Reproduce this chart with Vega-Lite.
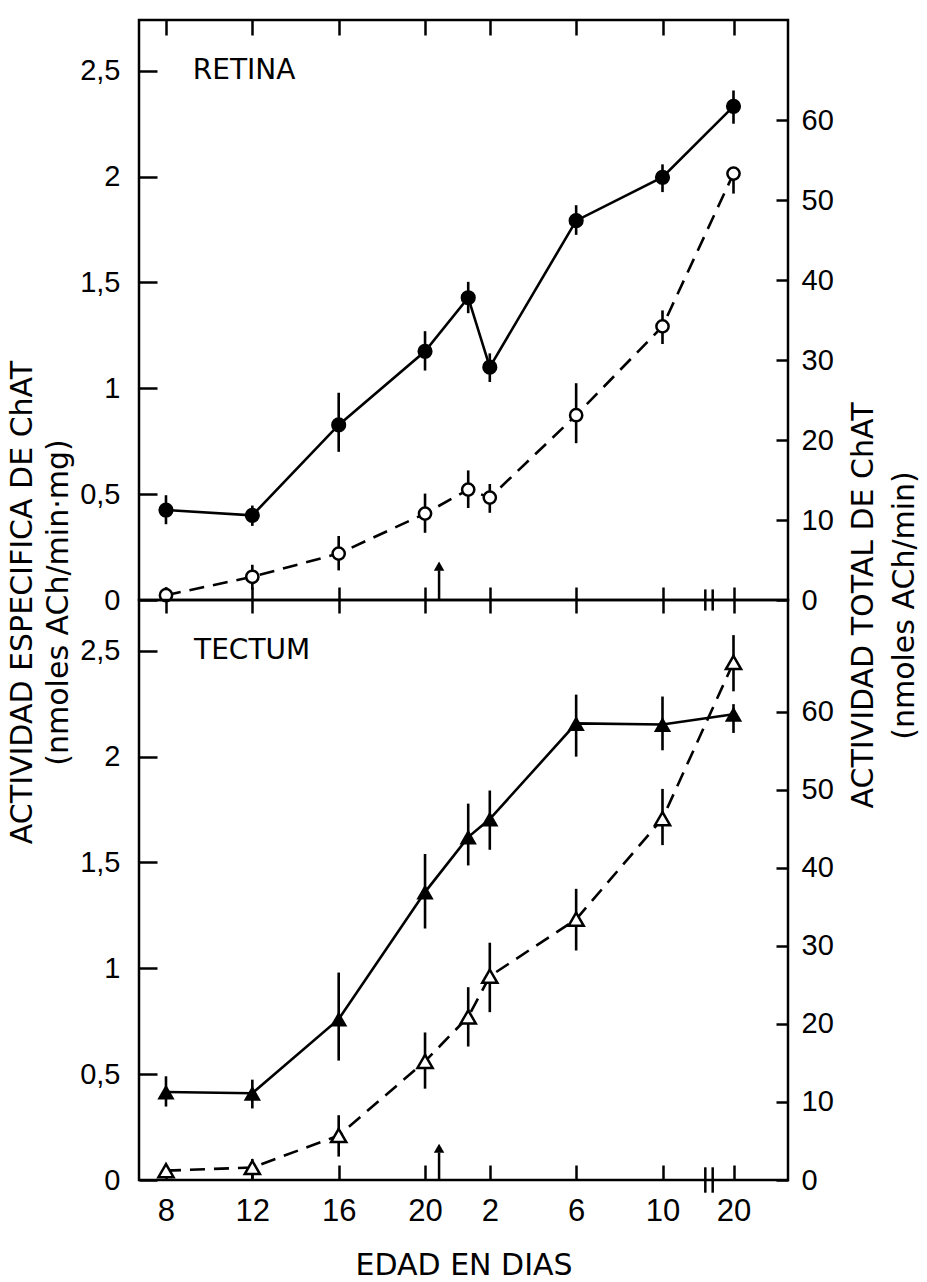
{
  "$schema": "https://vega.github.io/schema/vega-lite/v6.json",
  "background": "white",
  "padding": {"left": 5, "top": 17, "right": 0, "bottom": 2},
  "bounds": "flush",
  "spacing": 0,
  "datasets": {
    "pts": [
      {"panel": "RETINA", "serie": "especifica", "edad": 8, "v": 0.425, "lo": 0.358, "hi": 0.495},
      {"panel": "RETINA", "serie": "especifica", "edad": 12, "v": 0.40, "lo": 0.35, "hi": 0.446},
      {"panel": "RETINA", "serie": "especifica", "edad": 16, "v": 0.827, "lo": 0.70, "hi": 0.979},
      {"panel": "RETINA", "serie": "especifica", "edad": 20, "v": 1.175, "lo": 1.084, "hi": 1.27},
      {"panel": "RETINA", "serie": "especifica", "edad": 22, "v": 1.428, "lo": 1.355, "hi": 1.503},
      {"panel": "RETINA", "serie": "especifica", "edad": 23, "v": 1.10, "lo": 1.03, "hi": 1.165},
      {"panel": "RETINA", "serie": "especifica", "edad": 27, "v": 1.792, "lo": 1.725, "hi": 1.865},
      {"panel": "RETINA", "serie": "especifica", "edad": 31, "v": 1.997, "lo": 1.927, "hi": 2.058},
      {"panel": "RETINA", "serie": "especifica", "edad": 41, "v": 2.332, "lo": 2.25, "hi": 2.407},
      {"panel": "RETINA", "serie": "total", "edad": 8, "v": 0.6, "lo": 0.0, "hi": 1.6},
      {"panel": "RETINA", "serie": "total", "edad": 12, "v": 2.9, "lo": 1.3, "hi": 4.4},
      {"panel": "RETINA", "serie": "total", "edad": 16, "v": 5.8, "lo": 3.7, "hi": 8.0},
      {"panel": "RETINA", "serie": "total", "edad": 20, "v": 10.8, "lo": 8.4, "hi": 13.3},
      {"panel": "RETINA", "serie": "total", "edad": 22, "v": 13.8, "lo": 11.5, "hi": 16.2},
      {"panel": "RETINA", "serie": "total", "edad": 23, "v": 12.8, "lo": 10.9, "hi": 14.5},
      {"panel": "RETINA", "serie": "total", "edad": 27, "v": 23.1, "lo": 19.6, "hi": 27.1},
      {"panel": "RETINA", "serie": "total", "edad": 31, "v": 34.2, "lo": 32.0, "hi": 36.2},
      {"panel": "RETINA", "serie": "total", "edad": 41, "v": 53.3, "lo": 50.8, "hi": 53.3},
      {"panel": "TECTUM", "serie": "especifica", "edad": 8, "v": 0.416, "lo": 0.347, "hi": 0.49},
      {"panel": "TECTUM", "serie": "especifica", "edad": 12, "v": 0.41, "lo": 0.338, "hi": 0.474},
      {"panel": "TECTUM", "serie": "especifica", "edad": 16, "v": 0.76, "lo": 0.564, "hi": 0.98},
      {"panel": "TECTUM", "serie": "especifica", "edad": 20, "v": 1.36, "lo": 1.188, "hi": 1.54},
      {"panel": "TECTUM", "serie": "especifica", "edad": 22, "v": 1.62, "lo": 1.486, "hi": 1.778},
      {"panel": "TECTUM", "serie": "especifica", "edad": 23, "v": 1.705, "lo": 1.56, "hi": 1.84},
      {"panel": "TECTUM", "serie": "especifica", "edad": 27, "v": 2.157, "lo": 2.0, "hi": 2.293},
      {"panel": "TECTUM", "serie": "especifica", "edad": 31, "v": 2.152, "lo": 2.03, "hi": 2.284},
      {"panel": "TECTUM", "serie": "especifica", "edad": 41, "v": 2.2, "lo": 2.112, "hi": 2.248},
      {"panel": "TECTUM", "serie": "total", "edad": 8, "v": 1.2, "lo": 0.5, "hi": 1.8},
      {"panel": "TECTUM", "serie": "total", "edad": 12, "v": 1.6, "lo": 0.0, "hi": 2.7},
      {"panel": "TECTUM", "serie": "total", "edad": 16, "v": 5.7, "lo": 3.0, "hi": 8.3},
      {"panel": "TECTUM", "serie": "total", "edad": 20, "v": 15.2, "lo": 11.7, "hi": 18.9},
      {"panel": "TECTUM", "serie": "total", "edad": 22, "v": 20.9, "lo": 17.1, "hi": 24.7},
      {"panel": "TECTUM", "serie": "total", "edad": 23, "v": 26.1, "lo": 21.5, "hi": 30.4},
      {"panel": "TECTUM", "serie": "total", "edad": 27, "v": 33.4, "lo": 29.4, "hi": 37.3},
      {"panel": "TECTUM", "serie": "total", "edad": 31, "v": 46.3, "lo": 42.9, "hi": 50.1},
      {"panel": "TECTUM", "serie": "total", "edad": 41, "v": 66.3, "lo": 62.6, "hi": 69.8}
    ]
  },
  "data": {"name": "pts"},
  "config": {
    "font": "DejaVu Sans",
    "view": {"stroke": "black", "strokeWidth": 2.5},
    "axis": {
      "domain": false, "grid": false, "ticks": true,
      "tickColor": "black", "tickWidth": 2.5,
      "labelColor": "black", "labelFont": "Liberation Sans", "labelFontSize": 29,
      "labelFlush": false, "labelOverlap": false,
      "titleColor": "black", "titleFont": "DejaVu Sans", "titleFontSize": 30, "titleFontWeight": "normal"
    }
  },
  "vconcat": [
    {
      "width": 649, "height": 580,
      "layer": [
        {
          "layer": [
            {
              "transform": [{"filter": "datum.panel == 'RETINA' && datum.serie == 'especifica'"}],
              "mark": {"type": "rule", "color": "black", "strokeWidth": 2.6},
              "encoding": {
                "x": {"field": "edad", "type": "quantitative",
                      "scale": {"domain": [6.75, 31, 41, 43.5], "range": [0, 523.5, 594.5, 649], "nice": false, "zero": false},
                      "axis": {"orient": "bottom", "values": [8, 12, 16, 20, 23, 27, 31, 41], "offset": -13, "tickSize": 13, "labels": false, "title": null}},
                "y": {"field": "lo", "type": "quantitative", "scale": {"domain": [0, 2.74], "nice": false},
                      "axis": {"orient": "left", "values": [0, 0.5, 1, 1.5, 2, 2.5], "offset": -18, "tickSize": 18, "labelPadding": 19,
                               "labelExpr": "replace(format(datum.value, '~g'), '.', ',')",
                               "title": ["ACTIVIDAD ESPECIFICA DE ChAT", "(nmoles ACh/min·mg)"],
                               "titleAngle": -90, "titleX": -120, "titleY": 582, "titleAlign": "center", "titleBaseline": "bottom", "titleLineHeight": 36}},
                "y2": {"field": "hi"}
              }
            },
            {
              "transform": [{"filter": "datum.panel == 'RETINA' && datum.serie == 'especifica'"}],
              "mark": {"type": "line", "color": "black", "strokeWidth": 2.6},
              "encoding": {"x": {"field": "edad", "type": "quantitative"}, "y": {"field": "v", "type": "quantitative"}}
            },
            {
              "transform": [{"filter": "datum.panel == 'RETINA' && datum.serie == 'especifica'"}],
              "mark": {"type": "point", "shape": "circle", "filled": true, "color": "black", "size": 230, "opacity": 1},
              "encoding": {"x": {"field": "edad", "type": "quantitative"}, "y": {"field": "v", "type": "quantitative"}}
            },
            {
              "data": {"values": [{}]},
              "mark": {"type": "text", "text": "RETINA", "font": "DejaVu Sans", "fontSize": 28, "align": "left", "baseline": "middle", "color": "black"},
              "encoding": {"x": {"datum": 9.24, "type": "quantitative"}, "y": {"datum": 2.5, "type": "quantitative"}}
            },
            {
              "data": {"values": [{}]},
              "mark": {"type": "rule", "color": "black", "strokeWidth": 2.5},
              "encoding": {"x": {"datum": 20.65, "type": "quantitative"}, "y": {"datum": 0, "type": "quantitative"}, "y2": {"datum": 0.14}}
            },
            {
              "data": {"values": [{}]},
              "mark": {"type": "point", "shape": "triangle-up", "filled": true, "color": "black", "size": 110, "opacity": 1},
              "encoding": {"x": {"datum": 20.65, "type": "quantitative"}, "y": {"datum": 0.16, "type": "quantitative"}}
            },
            {
              "data": {"values": [{}]},
              "mark": {"type": "rule", "color": "black", "strokeWidth": 2.5},
              "encoding": {"x": {"datum": 37.03, "type": "quantitative"}, "y": {"datum": -0.05, "type": "quantitative"}, "y2": {"datum": 0.05}}
            },
            {
              "data": {"values": [{}]},
              "mark": {"type": "rule", "color": "black", "strokeWidth": 2.5},
              "encoding": {"x": {"datum": 38.07, "type": "quantitative"}, "y": {"datum": -0.05, "type": "quantitative"}, "y2": {"datum": 0.05}}
            }
          ]
        },
        {
          "transform": [{"filter": "datum.panel == 'RETINA' && datum.serie == 'total'"}],
          "layer": [
            {
              "mark": {"type": "rule", "color": "black", "strokeWidth": 2.6},
              "encoding": {
                "x": {"field": "edad", "type": "quantitative",
                      "axis": {"orient": "top", "values": [8, 12, 16, 20, 23, 27, 31, 41], "offset": -15, "tickSize": 15, "labels": false, "title": null}},
                "y": {"field": "lo", "type": "quantitative", "scale": {"domain": [0, 72.5], "nice": false},
                      "axis": {"orient": "right", "values": [0, 10, 20, 30, 40, 50, 60], "offset": -12, "tickSize": 12, "labelPadding": 13,
                               "title": ["ACTIVIDAD TOTAL DE ChAT", "(nmoles ACh/min)"],
                               "titleAngle": -90, "titleX": 102, "titleY": 585, "titleAlign": "center", "titleBaseline": "bottom", "titleLineHeight": 41}},
                "y2": {"field": "hi"}
              }
            },
            {
              "mark": {"type": "line", "color": "black", "strokeWidth": 2.6, "strokeDash": [15, 9]},
              "encoding": {"x": {"field": "edad", "type": "quantitative"}, "y": {"field": "v", "type": "quantitative"}}
            },
            {
              "mark": {"type": "point", "shape": "circle", "filled": true, "fill": "white", "stroke": "black", "strokeWidth": 2.5, "size": 150, "opacity": 1},
              "encoding": {"x": {"field": "edad", "type": "quantitative"}, "y": {"field": "v", "type": "quantitative"}}
            }
          ]
        }
      ],
      "resolve": {"scale": {"y": "independent"}, "axis": {"x": "independent", "y": "independent"}}
    },
    {
      "width": 649, "height": 580,
      "layer": [
        {
          "layer": [
            {
              "transform": [{"filter": "datum.panel == 'TECTUM' && datum.serie == 'especifica'"}],
              "mark": {"type": "rule", "color": "black", "strokeWidth": 2.6},
              "encoding": {
                "x": {"field": "edad", "type": "quantitative",
                      "scale": {"domain": [6.75, 31, 41, 43.5], "range": [0, 523.5, 594.5, 649], "nice": false, "zero": false},
                      "axis": {"orient": "bottom", "values": [8, 12, 16, 20, 23, 27, 31, 41], "offset": -15, "tickSize": 15, "labelPadding": 16,
                               "labelFontSize": 31,
                               "labelExpr": "datum.value > 20 ? datum.value - 21 : datum.value",
                               "title": "EDAD EN DIAS", "titlePadding": 24}},
                "y": {"field": "lo", "type": "quantitative", "scale": {"domain": [0, 2.74], "nice": false},
                      "axis": {"orient": "left", "values": [0, 0.5, 1, 1.5, 2, 2.5], "offset": -18, "tickSize": 18, "labelPadding": 19,
                               "labelExpr": "replace(format(datum.value, '~g'), '.', ',')", "title": null}},
                "y2": {"field": "hi"}
              }
            },
            {
              "transform": [{"filter": "datum.panel == 'TECTUM' && datum.serie == 'especifica'"}],
              "mark": {"type": "line", "color": "black", "strokeWidth": 2.6},
              "encoding": {"x": {"field": "edad", "type": "quantitative"}, "y": {"field": "v", "type": "quantitative"}}
            },
            {
              "transform": [{"filter": "datum.panel == 'TECTUM' && datum.serie == 'especifica'"}],
              "mark": {"type": "point", "shape": "triangle-up", "filled": true, "color": "black", "size": 300, "opacity": 1},
              "encoding": {"x": {"field": "edad", "type": "quantitative"}, "y": {"field": "v", "type": "quantitative"}}
            },
            {
              "data": {"values": [{}]},
              "mark": {"type": "text", "text": "TECTUM", "font": "DejaVu Sans", "fontSize": 28, "align": "left", "baseline": "middle", "color": "black"},
              "encoding": {"x": {"datum": 9.3, "type": "quantitative"}, "y": {"datum": 2.5, "type": "quantitative"}}
            },
            {
              "data": {"values": [{}]},
              "mark": {"type": "rule", "color": "black", "strokeWidth": 2.5},
              "encoding": {"x": {"datum": 20.65, "type": "quantitative"}, "y": {"datum": 0, "type": "quantitative"}, "y2": {"datum": 0.13}}
            },
            {
              "data": {"values": [{}]},
              "mark": {"type": "point", "shape": "triangle-up", "filled": true, "color": "black", "size": 110, "opacity": 1},
              "encoding": {"x": {"datum": 20.65, "type": "quantitative"}, "y": {"datum": 0.15, "type": "quantitative"}}
            },
            {
              "data": {"values": [{}]},
              "mark": {"type": "rule", "color": "black", "strokeWidth": 2.5},
              "encoding": {"x": {"datum": 37.03, "type": "quantitative"}, "y": {"datum": -0.06, "type": "quantitative"}, "y2": {"datum": 0.06}}
            },
            {
              "data": {"values": [{}]},
              "mark": {"type": "rule", "color": "black", "strokeWidth": 2.5},
              "encoding": {"x": {"datum": 38.07, "type": "quantitative"}, "y": {"datum": -0.06, "type": "quantitative"}, "y2": {"datum": 0.06}}
            }
          ]
        },
        {
          "transform": [{"filter": "datum.panel == 'TECTUM' && datum.serie == 'total'"}],
          "layer": [
            {
              "mark": {"type": "rule", "color": "black", "strokeWidth": 2.6},
              "encoding": {
                "x": {"field": "edad", "type": "quantitative",
                      "axis": {"orient": "top", "values": [8, 12, 16, 20, 23, 27, 31, 41], "offset": -13, "tickSize": 13, "labels": false, "title": null}},
                "y": {"field": "lo", "type": "quantitative", "scale": {"domain": [0, 74.3], "nice": false},
                      "axis": {"orient": "right", "values": [0, 10, 20, 30, 40, 50, 60], "offset": -12, "tickSize": 12, "labelPadding": 13, "title": null}},
                "y2": {"field": "hi"}
              }
            },
            {
              "mark": {"type": "line", "color": "black", "strokeWidth": 2.6, "strokeDash": [15, 9]},
              "encoding": {"x": {"field": "edad", "type": "quantitative"}, "y": {"field": "v", "type": "quantitative"}}
            },
            {
              "mark": {"type": "point", "shape": "triangle-up", "filled": true, "fill": "white", "stroke": "black", "strokeWidth": 2.5, "size": 230, "opacity": 1},
              "encoding": {"x": {"field": "edad", "type": "quantitative"}, "y": {"field": "v", "type": "quantitative"}}
            }
          ]
        }
      ],
      "resolve": {"scale": {"y": "independent"}, "axis": {"x": "independent", "y": "independent"}}
    }
  ]
}
